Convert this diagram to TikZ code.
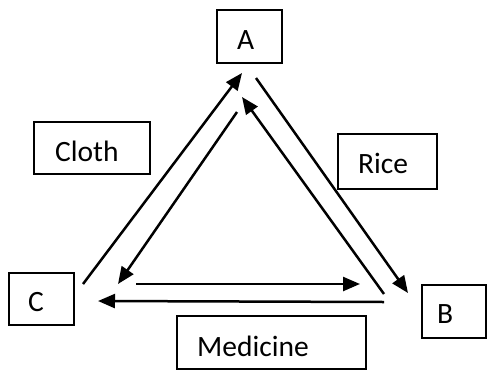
\documentclass[tikz,border=0pt]{standalone}
\usepackage{fontspec}
\setmainfont{Carlito}
\usetikzlibrary{arrows.meta}
\begin{document}
\begin{tikzpicture}[x=1pt,y=-1pt,
  lbl/.style={draw, line width=2.3pt, anchor=north west, inner ysep=0pt, align=left,
    font=\fontsize{29.5}{35}\selectfont},
  conn/.style={line width=2.5pt, -{Triangle[length=17pt,width=14pt]}}]
\useasboundingbox (0,0) rectangle (487,370);
% boxes
\node[lbl, inner xsep=20pt, text width=25pt, text height=39pt, text depth=14pt] (A) at (216,9) {A};
\node[lbl, inner xsep=21pt, text width=74pt, text height=39pt, text depth=13pt] (cloth) at (33,121) {Cloth};
\node[lbl, inner xsep=20pt, text width=59pt, text height=39pt, text depth=16pt] (rice) at (337,133) {Rice};
\node[lbl, inner xsep=19pt, text width=27pt, text height=38pt, text depth=14pt] (C) at (8,272) {C};
\node[lbl, inner xsep=15pt, text width=34pt, text height=38pt, text depth=15pt] (B) at (421,284) {B};
\node[lbl, inner xsep=20pt, text width=149pt, text height=40pt, text depth=13pt] (med) at (176,315) {Medicine};
% connector ends
\coordinate (cl1) at (83,284);
\coordinate (al1) at (242,73);
\coordinate (al2) at (237,112);
\coordinate (cl2) at (118,284);
\coordinate (br1) at (384,294);
\coordinate (ar1) at (242,97);
\coordinate (ar2) at (256,78);
\coordinate (br2) at (408,293);
\coordinate (ch1) at (136,284);
\coordinate (bh1) at (360,284);
\coordinate (bh2) at (384,302);
\coordinate (ch2) at (98,301);
% connectors
\draw[conn] (cl1) -- (al1);
\draw[conn] (al2) -- (cl2);
\draw[conn] (br1) -- (ar1);
\draw[conn] (ar2) -- (br2);
\draw[conn] (ch1) -- (bh1);
\draw[conn] (bh2) -- (ch2);
\end{tikzpicture}
\end{document}
